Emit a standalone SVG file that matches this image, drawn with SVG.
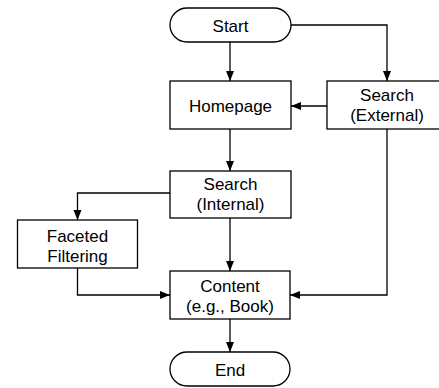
<svg xmlns="http://www.w3.org/2000/svg" width="439" height="388" viewBox="0 0 439 388">
<style>
.box{fill:#fff;stroke:#000;stroke-width:1.3}
.t{font-family:"Liberation Sans",Arial,Helvetica,sans-serif;font-size:17px;fill:#000;text-anchor:middle}
.c{fill:none;stroke:#000;stroke-width:1.3}
</style>
<defs>
<marker id="ah" markerWidth="10" markerHeight="10" viewBox="0 0 10 10" refX="10" refY="5" orient="auto" markerUnits="userSpaceOnUse">
<path d="M0,1 L10,5 L0,9 Z" fill="#000"/>
</marker>
</defs>
<rect width="439" height="388" fill="#fff"/>
<g id="connectors">
<path class="c" d="M230,42 V81" marker-end="url(#ah)"/>
<path class="c" d="M291,25 H387 V81" marker-end="url(#ah)"/>
<path class="c" d="M327,106 H291" marker-end="url(#ah)"/>
<path class="c" d="M230,129 V171" marker-end="url(#ah)"/>
<path class="c" d="M170,193 H77.5 V220" marker-end="url(#ah)"/>
<path class="c" d="M230,218 V271" marker-end="url(#ah)"/>
<path class="c" d="M77.5,268 V295 H170" marker-end="url(#ah)"/>
<path class="c" d="M387,129 V295 H290" marker-end="url(#ah)"/>
<path class="c" d="M230,319 V352" marker-end="url(#ah)"/>
</g>
<g id="start">
<rect class="box" x="170" y="8" width="121" height="34" rx="17"/>
<text class="t" x="230.5" y="31.5">Start</text>
</g>
<g id="homepage">
<rect class="box" x="170" y="81" width="121" height="48"/>
<text class="t" x="230.5" y="111.5">Homepage</text>
</g>
<g id="search-external">
<rect class="box" x="327" y="81" width="121" height="48"/>
<text class="t" x="387" y="101">Search</text>
<text class="t" x="387" y="121">(External)</text>
</g>
<g id="search-internal">
<rect class="box" x="170" y="171" width="121" height="47"/>
<text class="t" x="230.5" y="190">Search</text>
<text class="t" x="230.5" y="210">(Internal)</text>
</g>
<g id="faceted-filtering">
<rect class="box" x="17.5" y="220" width="120" height="48"/>
<text class="t" x="77.5" y="241.5">Faceted</text>
<text class="t" x="77.5" y="261.5">Filtering</text>
</g>
<g id="content">
<rect class="box" x="170" y="271" width="120" height="48"/>
<text class="t" x="230" y="291.5">Content</text>
<text class="t" x="230" y="311.5">(e.g., Book)</text>
</g>
<g id="end">
<rect class="box" x="170" y="352" width="120" height="34" rx="17"/>
<text class="t" x="230" y="375.5">End</text>
</g>
</svg>
